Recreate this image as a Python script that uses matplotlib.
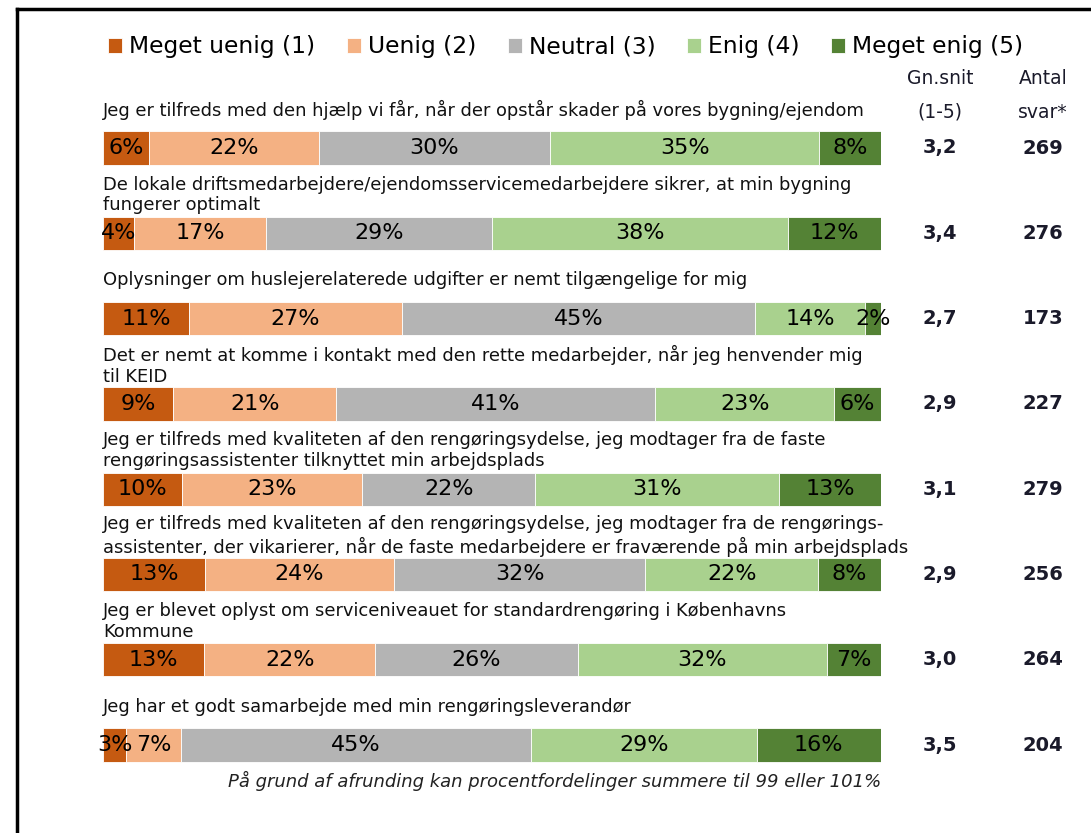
import matplotlib
matplotlib.use("Agg")
import matplotlib.pyplot as plt
from matplotlib.lines import Line2D
from matplotlib.patches import Rectangle
import numpy as np

# --- data ---
questions = [
    "Jeg er tilfreds med den hjælp vi får, når der opstår skader på vores bygning/ejendom",
    "De lokale driftsmedarbejdere/ejendomsservicemedarbejdere sikrer, at min bygning\nfungerer optimalt",
    "Oplysninger om huslejerelaterede udgifter er nemt tilgængelige for mig",
    "Det er nemt at komme i kontakt med den rette medarbejder, når jeg henvender mig\ntil KEID",
    "Jeg er tilfreds med kvaliteten af den rengøringsydelse, jeg modtager fra de faste\nrengøringsassistenter tilknyttet min arbejdsplads",
    "Jeg er tilfreds med kvaliteten af den rengøringsydelse, jeg modtager fra de rengørings-\nassistenter, der vikarierer, når de faste medarbejdere er fraværende på min arbejdsplads",
    "Jeg er blevet oplyst om serviceniveauet for standardrengøring i Københavns\nKommune",
    "Jeg har et godt samarbejde med min rengøringsleverandør",
]
categories = ["Meget uenig (1)", "Uenig (2)", "Neutral (3)", "Enig (4)", "Meget enig (5)"]
meget_uenig = [6, 4, 11, 9, 10, 13, 13, 3]
uenig = [22, 17, 27, 21, 23, 24, 22, 7]
neutral = [30, 29, 45, 41, 22, 32, 26, 45]
enig = [35, 38, 14, 23, 31, 22, 32, 29]
meget_enig = [8, 12, 2, 6, 13, 8, 7, 16]
gn_snit = ["3,2", "3,4", "2,7", "2,9", "3,1", "2,9", "3,0", "3,5"]
antal_svar = ["269", "276", "173", "227", "279", "256", "264", "204"]
footnote = "På grund af afrunding kan procentfordelinger summere til 99 eller 101%"

colors = ["#C55A11", "#F4B183", "#B4B4B4", "#A9D18E", "#548235"]

W, H = 1091, 833
fig = plt.figure(figsize=(W / 100, H / 100), dpi=100)
fig.patch.set_facecolor("white")

# axes spans the bar area horizontally, full height vertically
ax = fig.add_axes([103 / W, 0, 778 / W, 1])
ax.set_xlim(0, 1)
row_px, first_px = 85.3, 148
ax.set_ylim((H - first_px) / row_px, -first_px / row_px)
ax.axis("off")

vals = np.array([meget_uenig, uenig, neutral, enig, meget_enig], dtype=float)
shares = vals / vals.sum(axis=0)
y = np.arange(len(questions))

left = np.zeros(len(questions))
handles = []
for k, cat in enumerate(categories):
    bars = ax.barh(y, shares[k], left=left, height=0.39, color=colors[k],
                   label=cat, edgecolor="white", linewidth=0.6)
    handles.append(bars)
    for i in range(len(questions)):
        ax.text(left[i] + shares[k][i] / 2, y[i], f"{int(vals[k][i])}%",
                ha="center", va="center", fontsize=16, color="black")
    left += shares[k]

# the long label is cut off before the Gn.snit column, as in the original
clip = Rectangle((0, 0), 907 / W, 1, transform=fig.transFigure)
for i, q in enumerate(questions):
    t = ax.text(0, y[i] - 0.45, q, ha="left", va="center", fontsize=12.9,
                color="#111111", linespacing=1.2)
    t.set_clip_path(clip)

# right-hand columns
x_gn = (940 - 103) / 778
x_ant = (1043 - 103) / 778
for txt, yy in [("Gn.snit", -0.82), ("(1-5)", -0.42)]:
    ax.text(x_gn, yy, txt, ha="center", va="center", fontsize=13.5, color="#1a1a2a")
for txt, yy in [("Antal", -0.82), ("svar*", -0.42)]:
    ax.text(x_ant, yy, txt, ha="center", va="center", fontsize=13.5, color="#1a1a2a")
for i in range(len(questions)):
    ax.text(x_gn, y[i], gn_snit[i], ha="center", va="center", fontsize=14,
            color="#1a1a2a", fontweight="semibold")
    ax.text(x_ant, y[i], antal_svar[i], ha="center", va="center", fontsize=14,
            color="#1a1a2a", fontweight="semibold")

ax.text(1, 7.42, footnote, ha="right", va="center", fontsize=13, style="italic",
        color="#222222")

fig.legend(handles=handles, labels=categories, loc="center",
           bbox_to_anchor=(566 / W, 1 - 47 / H), ncol=5, frameon=False,
           fontsize=16.8, handlelength=0.6, handleheight=0.6, handletextpad=0.3,
           columnspacing=1.35, borderaxespad=0)

# frame lines at top and left
fig.add_artist(Line2D([17 / W, 17 / W], [0, 1 - 9 / H], transform=fig.transFigure,
                      color="black", linewidth=2.5))
fig.add_artist(Line2D([17 / W, 1], [1 - 9 / H, 1 - 9 / H], transform=fig.transFigure,
                      color="black", linewidth=2.5))

fig.savefig("out.png", dpi=100, facecolor="white")
